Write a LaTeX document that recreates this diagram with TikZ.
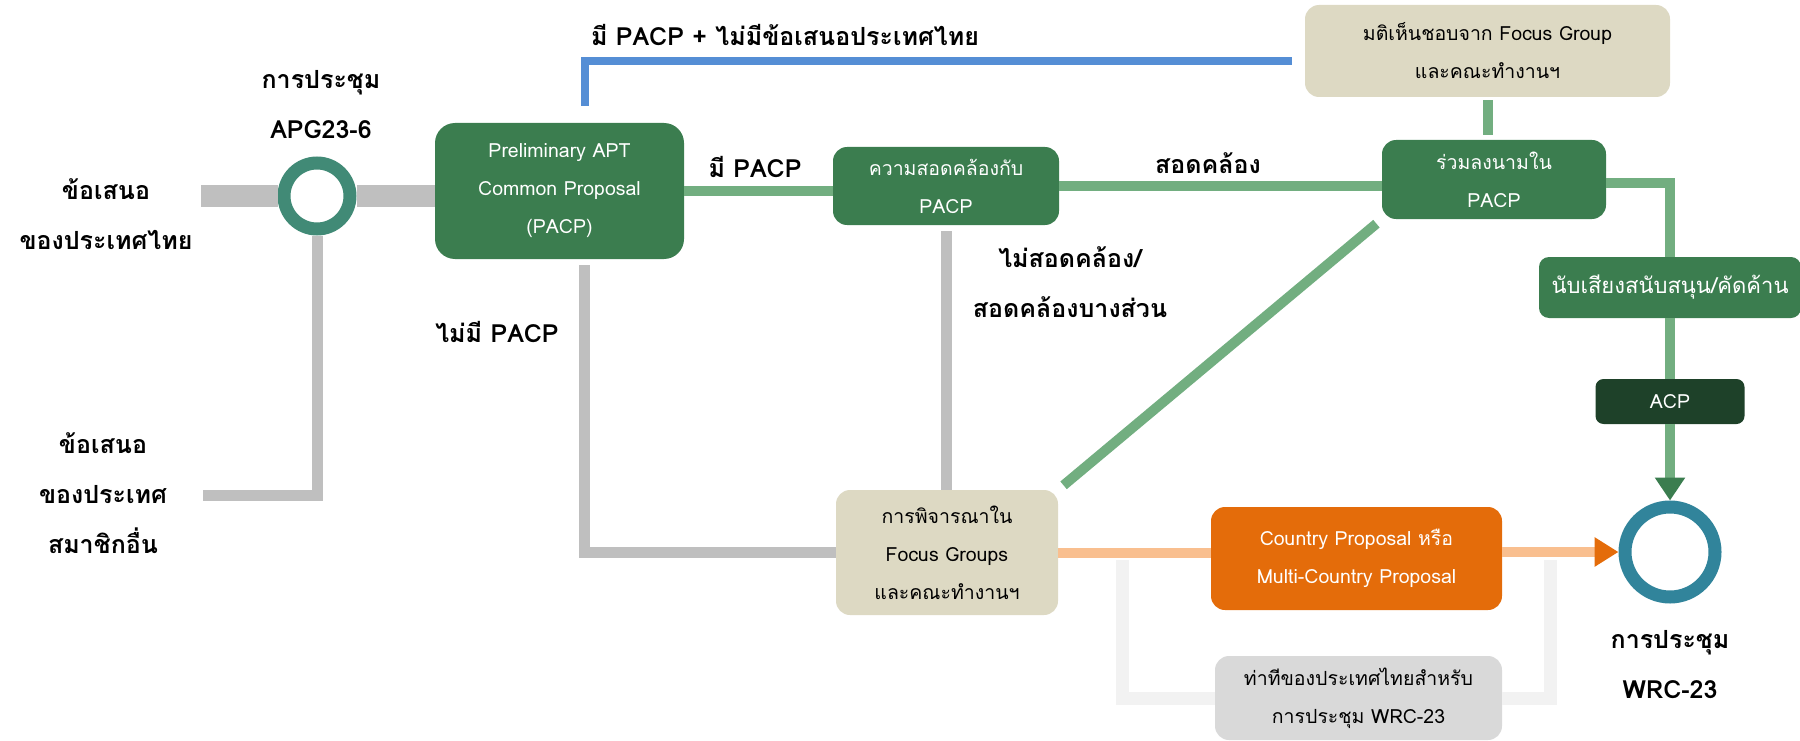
\documentclass[tikz,border=0pt]{standalone}
\usepackage{fontspec}
\setmainfont[Script=Thai]{Loma}
\usepackage{tikz}
\usetikzlibrary{arrows.meta}
\definecolor{boxgreen}{HTML}{3B7D4F}
\definecolor{linegreen}{HTML}{72AE80}
\definecolor{acpgreen}{HTML}{1E4129}
\definecolor{beige}{HTML}{DDD9C3}
\definecolor{cporange}{HTML}{E46C0A}
\definecolor{lineorange}{HTML}{F9BF8F}
\definecolor{barcol}{HTML}{BFBFBF}
\definecolor{loopcol}{HTML}{F2F2F2}
\definecolor{posgrey}{HTML}{D9D9D9}
\definecolor{bluecol}{HTML}{558ED5}
\definecolor{apgring}{HTML}{418A76}
\definecolor{wrcring}{HTML}{31849B}
\tikzset{
BOX/.style={rounded corners=14pt, align=center, inner sep=0pt, fill=boxgreen, text=white, font=\fontsize{19.5}{38}\selectfont},
PALE/.style={BOX, fill=#1, text=black},
LABEL/.style={align=center, font=\bfseries\fontsize{25}{50}\selectfont},
RING/.style={circle, draw=#1, line width=13pt, fill=white, inner sep=0pt},
GREYBAR/.style={draw=barcol, line width=22pt},
GREYLINE/.style={draw=barcol, line width=11pt},
GREENLINE/.style={draw=linegreen, line width=10pt},
ORANGELINE/.style={draw=lineorange, line width=10pt},
LOOP/.style={draw=loopcol, line width=13pt},
}

\begin{document}
\begin{tikzpicture}[x=1pt,y=-1pt] %Thai proposal to WRC-23
	\useasboundingbox (0,0) rectangle (1800,741);
	\node[LABEL] (thai) at (106,214) {ข้อเสนอ\\ของประเทศไทย};
	\node[LABEL] (member) at (103,493) {ข้อเสนอ\\ของประเทศ\\สมาชิกอื่น};
	\node[RING=apgring, minimum size=66pt] (apg) at (317,196) {};
	\node[LABEL] (apglbl) at (321,105) {การประชุม\\APG23-6};
	\node[BOX, minimum width=249pt, minimum height=136pt, rounded corners=20pt] (pacp) at (559.5,191) {Preliminary APT\\Common Proposal\\(PACP)};
	\node[BOX, minimum width=226pt, minimum height=78pt] (cons) at (946,186) {ความสอดคล้องกับ\\PACP};
	\node[BOX, minimum width=224pt, minimum height=79pt] (sign) at (1494,179.5) {ร่วมลงนามใน\\PACP};
	\node[PALE=beige, minimum width=365pt, minimum height=92pt] (resol) at (1487.5,51) {มติเห็นชอบจาก Focus Group\\และคณะทำงานฯ};
	\node[BOX, minimum width=262pt, minimum height=61pt, rounded corners=10pt, font=\fontsize{22}{40}\selectfont] (vote) at (1670,287.5) {นับเสียงสนับสนุน/คัดค้าน};
	\node[BOX, fill=acpgreen, minimum width=149pt, minimum height=45pt, rounded corners=8pt] (acp) at (1670,401.5) {ACP};
	\node[RING=wrcring, minimum size=90pt] (wrc) at (1670,552) {};
	\node[LABEL] (wrclbl) at (1670,665) {การประชุม\\WRC-23};
	\node[PALE=beige, minimum width=222pt, minimum height=125pt] (fg) at (947,552.5) {การพิจารณาใน\\Focus Groups\\และคณะทำงานฯ};
	\node[BOX, fill=cporange, minimum width=291pt, minimum height=103pt] (cp) at (1356.5,558.5) {Country Proposal หรือ\\Multi-Country Proposal};
	\node[PALE=posgrey, minimum width=287pt, minimum height=84pt] (pos) at (1358.5,698) {ท่าทีของประเทศไทยสำหรับ\\การประชุม WRC-23};
	\coordinate (thaiend) at (201,196);
	\coordinate (memberend) at (203,495);
	\coordinate (loopL) at (1122,560);
	\coordinate (loopR) at (1550,560);
	% grey lines
	\path[GREYBAR] (thaiend) -- (apg.west);
	\path[GREYBAR] (apg.east) -- (apg.east -| pacp.west);
	\path[GREYLINE] (apg.south) |- (memberend);
	\path[GREYLINE] ([xshift=25pt,yshift=-6pt]pacp.south) |- (fg.west);
	\path[GREYLINE] ([yshift=-6pt]cons.south) -- (cons.south |- fg.north);
	\path[draw=bluecol, line width=8pt] ([xshift=25pt,yshift=17pt]pacp.north) |- ([xshift=-13pt,yshift=-10pt]resol.west);
	% green lines
	\path[GREENLINE] (pacp.east) -- (pacp.east -| cons.west);
	\path[GREENLINE] (cons.east) -- (cons.east -| sign.west);
	\path[GREENLINE, shorten <=3pt, shorten >=5pt] (resol.south) -- (resol.south |- sign.north);
	\path[GREENLINE] ([yshift=-4pt]sign.east) -| (vote.north);
	\path[GREENLINE] (vote.south) -- (acp.north);
	\path[GREENLINE, -{Triangle[length=23pt,width=29pt,color=boxgreen]}] (acp.south) -- (wrc.north);
	\path[GREENLINE, shorten <=7pt, shorten >=7pt] (sign.south west) -- (fg.north east);
	% orange and loop
	\path[ORANGELINE] (fg.east) -- (fg.east -| cp.west);
	\path[ORANGELINE, -{Triangle[length=24pt,width=28pt,color=cporange]}] (cp.east |- wrc.west) -- (wrc.west);
	\path[LOOP] (loopL) |- (pos.west);
	\path[LOOP] (pos.east) -| (loopR);
	% labels on the lines
	\node[LABEL] (withpacp) at (785,35) {มี PACP + ไม่มีข้อเสนอประเทศไทย};
	\node[LABEL] (haspacp) at (755,167) {มี PACP};
	\node[LABEL] (nopacp) at (497,332) {ไม่มี PACP};
	\node[LABEL] (agree) at (1208,163) {สอดคล้อง};
	\node[LABEL] (disagree) at (1070,282) {ไม่สอดคล้อง/\\สอดคล้องบางส่วน};
\end{tikzpicture}
\end{document}
